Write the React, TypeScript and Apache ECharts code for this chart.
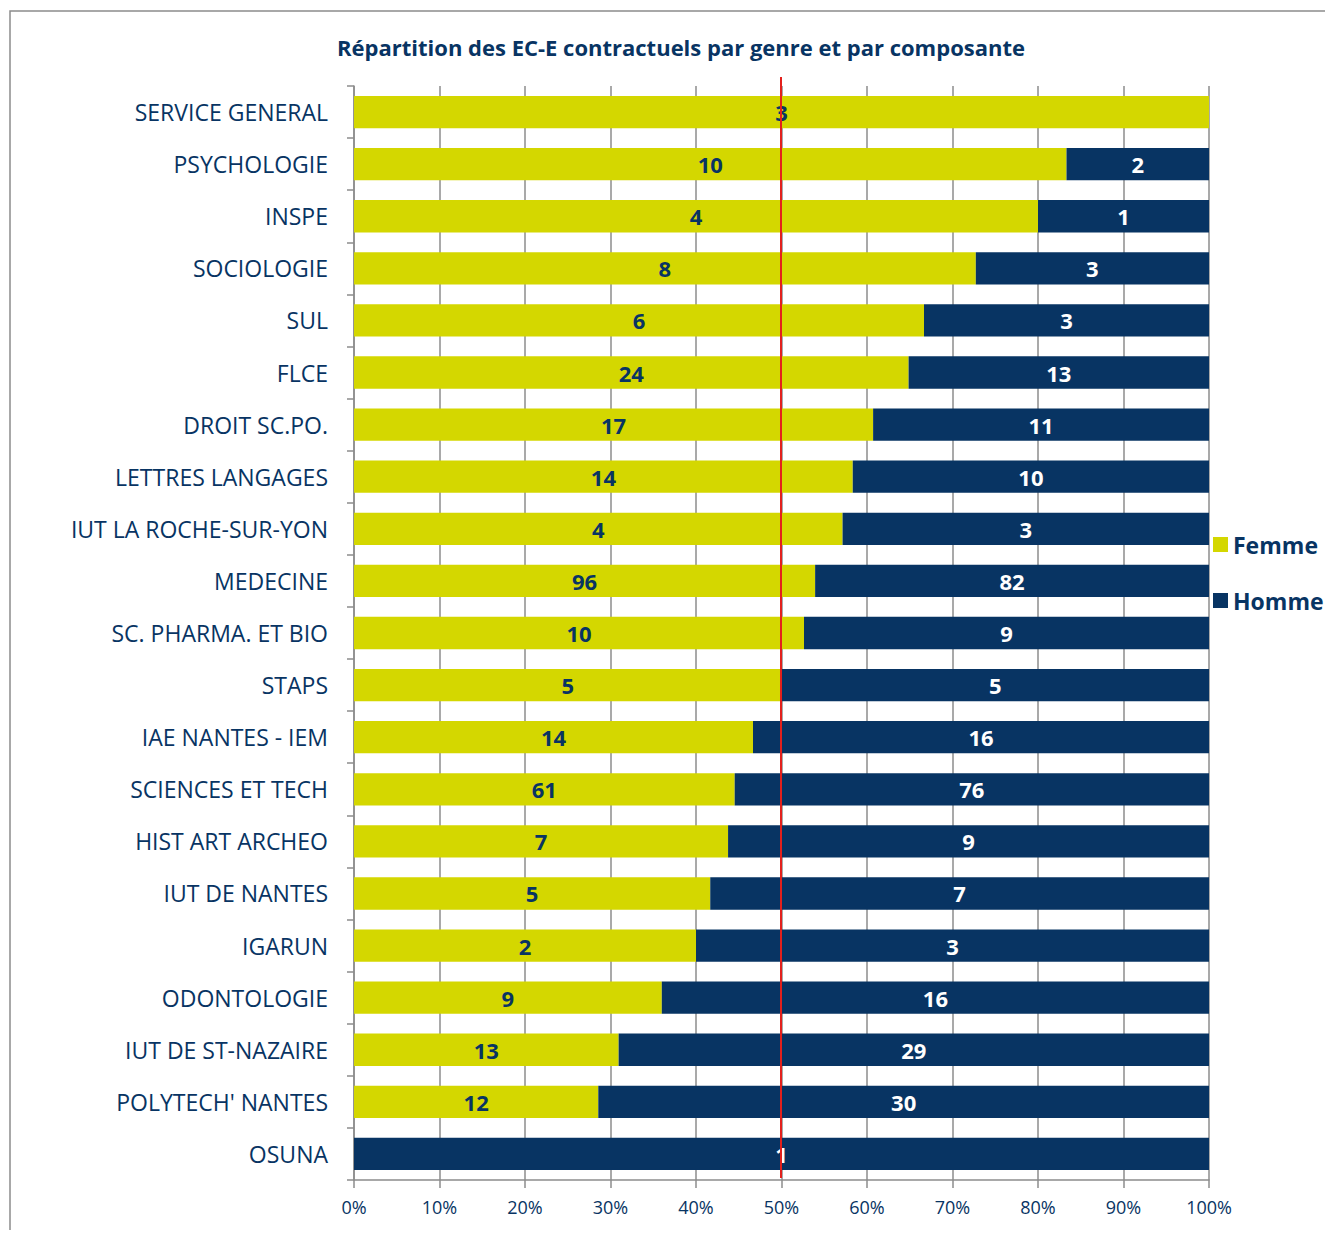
import React, { useEffect, useRef } from "react";
import * as echarts from "echarts";

const categories = [
  "SERVICE GENERAL",
  "PSYCHOLOGIE",
  "INSPE",
  "SOCIOLOGIE",
  "SUL",
  "FLCE",
  "DROIT SC.PO.",
  "LETTRES LANGAGES",
  "IUT LA ROCHE-SUR-YON",
  "MEDECINE",
  "SC. PHARMA. ET BIO",
  "STAPS",
  "IAE NANTES - IEM",
  "SCIENCES ET TECH",
  "HIST ART ARCHEO",
  "IUT DE NANTES",
  "IGARUN",
  "ODONTOLOGIE",
  "IUT DE ST-NAZAIRE",
  "POLYTECH' NANTES",
  "OSUNA",
];
const femme = [3, 10, 4, 8, 6, 24, 17, 14, 4, 96, 10, 5, 14, 61, 7, 5, 2, 9, 13, 12, 0];
const homme = [0, 2, 1, 3, 3, 13, 11, 10, 3, 82, 9, 5, 16, 76, 9, 7, 3, 16, 29, 30, 1];
const xTicks = [0, 10, 20, 30, 40, 50, 60, 70, 80, 90, 100];
const referenceLine = 50;

const NAVY = "#083463";
const YELLOW = "#d4d700";
const FONT = "'Open Sans', 'Noto Sans', sans-serif";

export default function App() {
  const ref = useRef<HTMLDivElement>(null);
  useEffect(() => {
    if (!ref.current) return;
    const chart = echarts.init(ref.current, undefined, { renderer: "svg" });
    const pct = (a: number, b: number) => (a + b === 0 ? 0 : (a / (a + b)) * 100);
    const fData = femme.map((v, i) => ({ value: pct(v, homme[i]), count: v }));
    const hData = homme.map((v, i) => ({ value: pct(v, femme[i]), count: v }));
    const labelFmt = (p: any) => (p.data.count ? String(p.data.count) : "");
    chart.setOption({
      animation: false,
      textStyle: { fontFamily: FONT },
      title: {
        text: "Répartition des EC-E contractuels par genre et par composante",
        left: 668,
        textAlign: "center",
        top: 23,
        textStyle: { color: NAVY, fontSize: 22, fontWeight: "bold", fontFamily: FONT },
      },
      legend: {
        orient: "vertical",
        left: 1200,
        top: 520,
        padding: 5,
        itemWidth: 15,
        itemHeight: 15,
        itemGap: 33,
        icon: "rect",
        textStyle: { color: NAVY, fontSize: 23, fontWeight: "bold", fontFamily: FONT, padding: [0, 0, 0, 0] },
        data: ["Femme", "Homme"],
      },
      grid: { left: 346, right: 116, top: 78, bottom: 50, containLabel: false },
      xAxis: {
        type: "value",
        min: 0,
        max: 100,
        interval: 10,
        axisLine: { show: true, lineStyle: { color: "#8c8c8c", width: 1.5 } },
        axisTick: { show: true, length: 8, lineStyle: { color: "#8c8c8c", width: 1.5 } },
        axisLabel: {
          color: NAVY,
          fontSize: 18,
          margin: 18,
          fontFamily: FONT,
          formatter: (v: number) => (xTicks.includes(v) ? v + "%" : ""),
        },
        splitLine: { show: true, lineStyle: { color: "#8c8c8c", width: 1.5 } },
      },
      yAxis: {
        type: "category",
        data: categories,
        inverse: true,
        axisLine: { show: true, lineStyle: { color: "#8c8c8c", width: 1.5 } },
        axisTick: { show: true, length: 7, lineStyle: { color: "#8c8c8c", width: 1.5 } },
        axisLabel: { color: NAVY, fontSize: 23, margin: 26, fontFamily: FONT },
      },
      series: [
        {
          name: "Femme",
          type: "bar",
          stack: "total",
          barWidth: "62%",
          itemStyle: { color: YELLOW },
          label: {
            show: true,
            position: "inside",
            formatter: labelFmt,
            color: NAVY,
            fontSize: 22,
            fontWeight: "bold",
            fontFamily: FONT,
          },
          data: fData,
        },
        {
          name: "Homme",
          type: "bar",
          stack: "total",
          barWidth: "62%",
          itemStyle: { color: NAVY },
          label: {
            show: true,
            position: "inside",
            formatter: labelFmt,
            color: "#ffffff",
            fontSize: 22,
            fontWeight: "bold",
            fontFamily: FONT,
          },
          data: hData,
        },
      ],
    });
    const x = chart.convertToPixel({ xAxisIndex: 0 }, referenceLine) as number;
    chart.setOption({
      graphic: [
        {
          type: "rect",
          shape: { x: 2, y: 3, width: 2000, height: 2000 },
          style: { fill: "none", stroke: "#8c8c8c", lineWidth: 1.5 },
          silent: true,
        },
        {
          type: "line",
          shape: { x1: x - 0.5, y1: 69, x2: x - 0.5, y2: 1170 },
          style: { stroke: "#e3201c", lineWidth: 2 },
          z: 100,
          silent: true,
        },
      ],
    });
    return () => chart.dispose();
  }, []);
  return <div ref={ref} style={{ width: 1317, height: 1222 }} />;
}
